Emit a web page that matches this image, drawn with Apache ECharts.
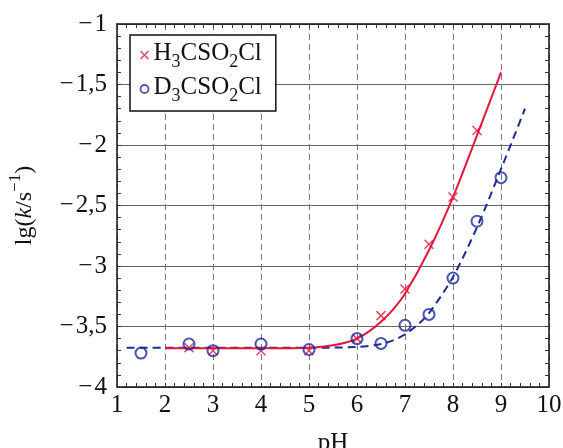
<!DOCTYPE html>
<html>
<head>
<meta charset="utf-8">
<script src="https://cdn.jsdelivr.net/npm/echarts@6/dist/echarts.min.js"></script>
<style>
  html, body { margin: 0; padding: 0; background: #fff; }
  #chart { width: 563px; height: 448px; }
</style>
</head>
<body>
<div id="chart"></div>
<script>
// Messpunkte
const phH = [2.5, 3, 4, 5, 6, 6.5, 7, 7.5, 8, 8.5];
const lgkH = [-3.675, -3.70, -3.70, -3.70, -3.60, -3.41, -3.19, -2.82, -2.43, -1.88];

const phD = [1.5, 2.5, 3, 4, 5, 6, 6.5, 7, 7.5, 8, 8.5, 9];
const lgkD = [-3.72, -3.645, -3.70, -3.645, -3.69, -3.60, -3.64, -3.49, -3.40, -3.10, -2.63, -2.27];

// Ausgleichskurven
const fitPhH = [2, 3, 4, 5, 5.5, 5.75, 6, 6.25, 6.5, 6.75, 7, 7.5, 8, 8.5, 9];
const fitLgkH = [-3.68, -3.68, -3.68, -3.675, -3.655, -3.635, -3.60, -3.54, -3.46, -3.36, -3.23, -2.87, -2.43, -1.92, -1.40];

const fitPhD = [1.2, 2, 3, 4, 5, 6, 6.5, 6.75, 7, 7.25, 7.5, 8, 8.5, 9, 9.5];
const fitLgkD = [-3.675, -3.675, -3.675, -3.675, -3.675, -3.67, -3.645, -3.615, -3.565, -3.49, -3.39, -3.09, -2.68, -2.20, -1.70];

const legendNames = ['H3CSO2Cl', 'D3CSO2Cl'];

const serif = 'Liberation Serif';
const red = '#e3173a';
const blue = '#1d2b9a';
const crossPath = 'path://M0,0L10,10M10,0L0,10';

function zip(xs, ys) {
    return xs.map((x, i) => [x, ys[i]]);
}

function fmtNum(v) {
    const s = Math.abs(v).toString().replace('.', ',');
    return v < 0 ? '\u2212\u200A' + s : s;
}

const chart = echarts.init(document.getElementById('chart'));

const L = 117, R = 14, T = 24, B = 61, TICK = 4;
const frame = { show: true, onZero: false, lineStyle: { color: '#111', width: 1.5 } };
const smallTick = { show: true, inside: true, length: TICK, lineStyle: { color: '#333', width: 1 } };
const minor = { show: true, splitNumber: 5, length: TICK, lineStyle: { color: '#333', width: 1 } };

// Gitter 0: Diagramm; Gitter 1-4: schmale Streifen, deren Gitterlinien als kleine Striche dienen
const grids = [
    { left: L, right: R, top: T, bottom: B },
    { left: L, right: R, bottom: B, height: TICK },
    { left: L, right: R, top: T, height: TICK },
    { left: L, width: TICK, top: T, bottom: B },
    { right: R, width: TICK, top: T, bottom: B }
].map(g => Object.assign({ outerBoundsMode: 'none', containLabel: false }, g));

const tickLine = { show: true, lineStyle: { color: '#333', width: 1, type: 'solid' } };

function stripAxis(gridIndex, range, interval, withLines) {
    return {
        type: 'value', gridIndex: gridIndex, min: range[0], max: range[1], interval: interval,
        axisLine: { show: false }, axisTick: { show: false }, axisLabel: { show: false },
        splitLine: withLines ? tickLine : { show: false }
    };
}

// unsichtbare Serie, damit die Streifen-Gitter gezeichnet werden
function ghost(i) {
    return {
        type: 'line', xAxisIndex: i, yAxisIndex: i, data: zip(phD, lgkD),
        showSymbol: false, silent: true, clip: true,
        lineStyle: { opacity: 0 }, tooltip: { show: false }
    };
}

const xRange = [1, 10], yRange = [-4, -1];

const option = {
    animation: false,
    backgroundColor: '#fff',
    grid: grids,
    legend: {
        orient: 'vertical',
        left: 130, top: 35,
        padding: [6, 14, 6, 8],
        itemGap: 4,
        itemWidth: 8, itemHeight: 8,
        backgroundColor: '#fff',
        borderColor: '#111', borderWidth: 1.5, borderRadius: 0,
        data: [
            { name: legendNames[0], icon: crossPath, itemStyle: { color: 'none', borderColor: red, borderWidth: 1.5 } },
            { name: legendNames[1], icon: 'circle', itemStyle: { color: '#fff', borderColor: blue, borderWidth: 1.8 } }
        ],
        formatter: name => '{n|' + name[0] + '}{s|3}{n|CSO}{s|2}{n|Cl}',
        textStyle: {
            fontFamily: serif,
            rich: {
                n: { fontFamily: serif, fontSize: 25, color: '#111', lineHeight: 28, verticalAlign: 'top' },
                s: { fontFamily: serif, fontSize: 18, color: '#111', lineHeight: 28, verticalAlign: 'top', padding: [12, 0, 0, 0] }
            }
        }
    },
    xAxis: [
        {
            type: 'value', gridIndex: 0, min: xRange[0], max: xRange[1], interval: 1,
            name: 'pH', nameLocation: 'middle', nameGap: 44,
            nameTextStyle: { fontFamily: serif, fontSize: 25, color: '#111' },
            axisLine: frame,
            axisTick: smallTick,
            minorTick: minor,
            axisLabel: { fontFamily: serif, fontSize: 25, color: '#111', margin: 6, formatter: fmtNum },
            splitLine: { show: true, lineStyle: { color: '#777', type: [6, 4], width: 1 } }
        },
        {
            type: 'value', gridIndex: 0, min: xRange[0], max: xRange[1], interval: 0.2, position: 'top',
            axisLine: frame, axisTick: smallTick, axisLabel: { show: false }, splitLine: { show: false }
        },
        stripAxis(1, xRange, 0.2, true),
        stripAxis(2, xRange, 0.2, true),
        stripAxis(3, [0, 1], 1, false),
        stripAxis(4, [0, 1], 1, false)
    ],
    yAxis: [
        {
            type: 'value', gridIndex: 0, min: yRange[0], max: yRange[1], interval: 0.5,
            name: '{n|lg(}{i|k}{n|/s}{p|\u22121}{n|)}',
            nameLocation: 'middle', nameGap: 80, nameRotate: 90,
            nameTextStyle: {
                rich: {
                    n: { fontFamily: serif, fontSize: 24, color: '#111', lineHeight: 30, verticalAlign: 'bottom' },
                    i: { fontFamily: serif, fontSize: 24, fontStyle: 'italic', color: '#111', lineHeight: 30, verticalAlign: 'bottom' },
                    p: { fontFamily: serif, fontSize: 17, color: '#111', lineHeight: 30, verticalAlign: 'top', padding: [0, 0, 8, 0] }
                }
            },
            axisLine: frame,
            axisTick: smallTick,
            minorTick: minor,
            axisLabel: { fontFamily: serif, fontSize: 25, color: '#111', margin: 10, formatter: fmtNum },
            splitLine: { show: true, lineStyle: { color: '#666', width: 1 } }
        },
        {
            type: 'value', gridIndex: 0, min: yRange[0], max: yRange[1], interval: 0.1, position: 'right',
            axisLine: frame, axisTick: smallTick, axisLabel: { show: false }, splitLine: { show: false }
        },
        stripAxis(1, [0, 1], 1, false),
        stripAxis(2, [0, 1], 1, false),
        stripAxis(3, yRange, 0.1, true),
        stripAxis(4, yRange, 0.1, true)
    ],
    series: [
        ghost(2), ghost(3), ghost(4), ghost(5),
        {
            name: 'fitD', type: 'line', xAxisIndex: 0, yAxisIndex: 0, data: zip(fitPhD, fitLgkD),
            smooth: 0.3, showSymbol: false, silent: true,
            lineStyle: { color: blue, width: 2, type: [8, 5] }, z: 2
        },
        {
            name: 'fitH', type: 'line', xAxisIndex: 0, yAxisIndex: 0, data: zip(fitPhH, fitLgkH),
            smooth: 0.3, showSymbol: false, silent: true,
            lineStyle: { color: red, width: 2 }, z: 3
        },
        {
            name: legendNames[0], type: 'scatter', xAxisIndex: 0, yAxisIndex: 0, data: zip(phH, lgkH),
            symbol: crossPath, symbolSize: 9,
            itemStyle: { color: 'none', borderColor: red, borderWidth: 1.5 }, z: 4
        },
        {
            name: legendNames[1], type: 'scatter', xAxisIndex: 0, yAxisIndex: 0, data: zip(phD, lgkD),
            symbol: 'circle', symbolSize: 11,
            itemStyle: { color: 'rgba(255,255,255,0)', borderColor: blue, borderWidth: 2 }, z: 5
        }
    ]
};

chart.setOption(option);
</script>
</body>
</html>
